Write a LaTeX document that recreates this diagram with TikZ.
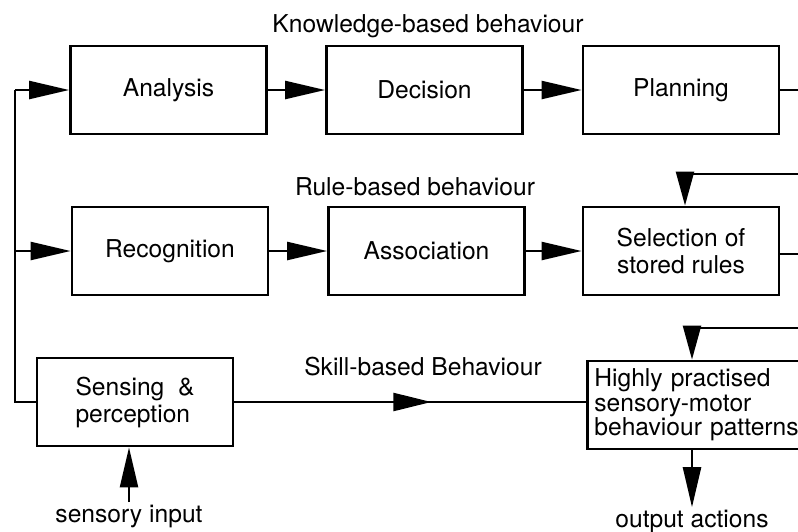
\documentclass[tikz,border=0pt]{standalone}
\usepackage{fontspec}
\setmainfont{TeX Gyre Heros}
\usetikzlibrary{arrows.meta}
\usetikzlibrary{decorations.markings}

\tikzset{
  stage/.style={draw, line width=1.4pt, minimum width=98pt, minimum height=44pt, align=center, font=\fontsize{12.3}{13.5}\selectfont},
  level/.style={inner sep=1pt, font=\fontsize{12.3}{13.5}\selectfont},
  wire/.style={line width=1.2pt},
  flow/.style={wire, -{Triangle[length=20pt,width=9pt]}},
  drop/.style={wire, -{Triangle[length=17pt,width=9pt]}},
  midflow/.style={wire, postaction={decorate}, decoration={markings, mark=at position 0.56 with {\arrow{Triangle[length=19pt,width=9pt]}}}}
}

\begin{document}
\begin{tikzpicture}[x=0.5pt, y=-0.5pt]
  \useasboundingbox (0,0) rectangle (798,531);
  \node[stage] (analysis) at (168.5,90) {Analysis};
  \node[stage] (decision) at (424.5,90) {Decision};
  \node[stage] (planning) at (681,90) {Planning};
  \node[stage] (recognition) at (170,251) {Recognition};
  \node[stage] (association) at (426.5,251) {Association};
  \node[stage] (selection) at (681,251) {Selection of\\stored rules};
  \node[stage, align=left] (sensing) at (135,402) {Sensing~~\&\\perception};
  \node[stage, anchor=west, text width=112pt, inner xsep=3.5pt, align=left, font=\fontsize{12.3}{12.3}\selectfont] (practised) at (586,405) {Highly practised\\sensory-motor\\behaviour patterns};
  \node[level, anchor=base] (knowledge) at (428,32) {Knowledge-based behaviour};
  \node[level, anchor=base] (rule) at (415,195) {Rule-based behaviour};
  \node[level, anchor=base] (skill) at (423,375) {Skill-based Behaviour};
  \node[level, anchor=base] (input) at (129,522) {sensory input};
  \node[level, anchor=base] (output) at (692,527) {output actions};
  \coordinate (trunktop) at (15,90);
  \coordinate (trunkmid) at (15,251);
  \coordinate (trunkbot) at (15,402);
  \coordinate (kout) at (800,90);
  \coordinate (rout) at (800,254);
  \coordinate (rin) at (800,174);
  \coordinate (sin) at (800,328);
  \draw[wire] (sensing.west) -- (trunkbot) -- (trunktop);
  \draw[flow] (trunktop) -- (analysis.west);
  \draw[flow] (trunkmid) -- (recognition.west);
  \draw[flow] (analysis) -- (decision);
  \draw[flow] (decision) -- (planning);
  \draw[flow] (recognition) -- (association);
  \draw[flow] (association) -- (selection);
  \draw[wire] (planning.east) -- (kout);
  \draw[wire] (selection.east |- rout) -- (rout);
  \draw[drop] (rin) -| (selection.north -| 685,0);
  \draw[drop] (sin) -| (output.north |- practised.north);
  \draw[midflow] (sensing.east) -- (sensing.east -| practised.west);
  \draw[flow] (input.north) -- (input.north |- sensing.south);
  \draw[flow] (output.north |- practised.south) -- (output.north);
\end{tikzpicture}
\end{document}
